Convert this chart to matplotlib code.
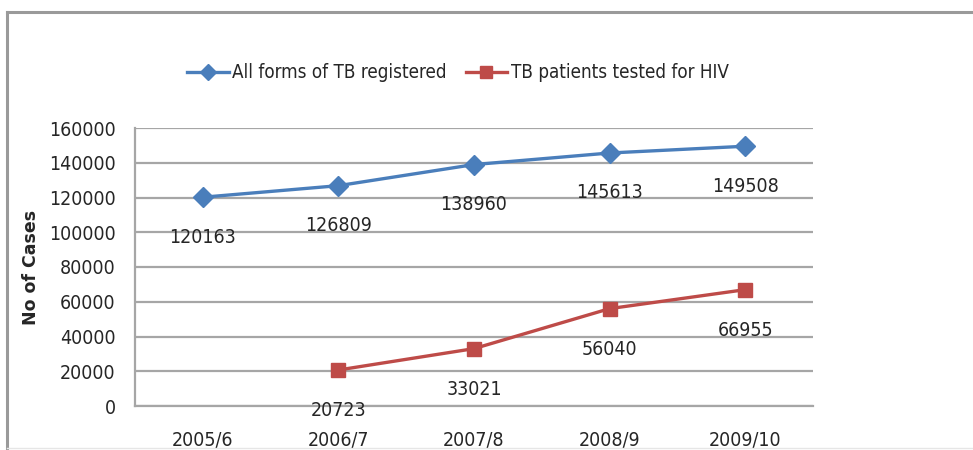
import matplotlib
matplotlib.use("Agg")
import matplotlib.pyplot as plt
from matplotlib.lines import Line2D
from matplotlib import font_manager
import numpy as np

categories = ["2005/6", "2006/7", "2007/8", "2008/9", "2009/10"]
tb_registered = [120163, 126809, 138960, 145613, 149508]
tb_tested_cats = ["2006/7", "2007/8", "2008/9", "2009/10"]
tb_tested = [20723, 33021, 56040, 66955]
yticks = [0, 20000, 40000, 60000, 80000, 100000, 120000, 140000, 160000]

# pick a narrow font (Calibri-like look)
fonts = font_manager.fontManager.ttflist
names = {f.name for f in fonts}
if "Liberation Sans Narrow" in names:
    FP = dict(family=["Liberation Sans Narrow", "DejaVu Sans"], stretch="normal")
    FS, LFS = 16, 15.5
elif any(f.name == "DejaVu Sans" and f.stretch == "condensed" for f in fonts):
    FP = dict(family=["DejaVu Sans"], stretch="condensed")
    FS, LFS = 14, 13.5
else:
    FP = dict(family=["Lato", "DejaVu Sans"], stretch="normal")
    FS, LFS = 14.5, 14.5

W, H = 973, 450
fig = plt.figure(figsize=(W / 100, H / 100), dpi=100)
fig.patch.set_facecolor("white")

TXT = "#262626"
BLUE = "#4a7ebb"
RED = "#be4b48"

# chart outer border
fig.add_artist(Line2D([7 / W, 7 / W], [1 - 12 / H, 0], transform=fig.transFigure,
                      color="#9a9a9a", lw=2.2))
fig.add_artist(Line2D([7 / W, 1], [1 - 12 / H, 1 - 12 / H], transform=fig.transFigure,
                      color="#9a9a9a", lw=2.2))
fig.add_artist(Line2D([7 / W, 1], [1 - 448 / H, 1 - 448 / H], transform=fig.transFigure,
                      color="#e6e6e6", lw=1))

left, right, top, bottom = 135, 813, 128, 406
ax = fig.add_axes([left / W, 1 - bottom / H, (right - left) / W, (bottom - top) / H])

x_all = np.arange(len(categories))
x_tested = np.array([categories.index(c) for c in tb_tested_cats])

ax.plot(x_all, tb_registered, color=BLUE, lw=2.4, marker="D", ms=10,
        markerfacecolor=BLUE, markeredgecolor=BLUE, label="All forms of TB registered",
        zorder=4)
ax.plot(x_tested, tb_tested, color=RED, lw=2.4, marker="s", ms=10,
        markerfacecolor=RED, markeredgecolor=RED, label="TB patients tested for HIV",
        zorder=4)

for xi, v in zip(x_all, tb_registered):
    ax.annotate(str(v), (xi, v), xytext=(0, -40), textcoords="offset pixels",
                ha="center", va="center", fontsize=FS, color=TXT, zorder=5, **FP)
for xi, v in zip(x_tested, tb_tested):
    ax.annotate(str(v), (xi, v), xytext=(0, -41), textcoords="offset pixels",
                ha="center", va="center", fontsize=FS, color=TXT, zorder=5,
                annotation_clip=False, **FP)

ax.set_xlim(-0.5, len(categories) - 0.5)
ax.set_ylim(0, 160000)
ax.set_yticks(yticks)
ax.set_yticklabels([str(t) for t in yticks], fontsize=FS, color=TXT, **FP)
ax.set_xticks(x_all)
ax.set_xticklabels(categories, fontsize=FS, color=TXT, **FP)
ax.tick_params(axis="y", length=0, pad=14)
ax.tick_params(axis="x", length=0, pad=18)
ax.yaxis.grid(True, color="#a6a6a6", lw=1.6)
ax.set_axisbelow(True)
for s in ["top", "right"]:
    ax.spines[s].set_visible(False)
for s in ["left", "bottom"]:
    ax.spines[s].set_color("#a6a6a6")
    ax.spines[s].set_linewidth(1.6)

ax.set_ylabel("No of Cases", fontsize=12.5, fontweight="bold", color=TXT,
              family="DejaVu Sans")
ax.yaxis.set_label_coords(40 / W, 1 - 267 / H, transform=fig.transFigure)

leg = fig.legend(loc="center", bbox_to_anchor=(458 / W, 1 - 73 / H), ncol=2,
                 frameon=False,
                 prop=font_manager.FontProperties(size=LFS, **FP),
                 handlelength=2.2, handletextpad=0.2, columnspacing=1.0,
                 markerscale=0.8)
for t in leg.get_texts():
    t.set_color(TXT)

fig.savefig("out.png", dpi=100, facecolor="white")
